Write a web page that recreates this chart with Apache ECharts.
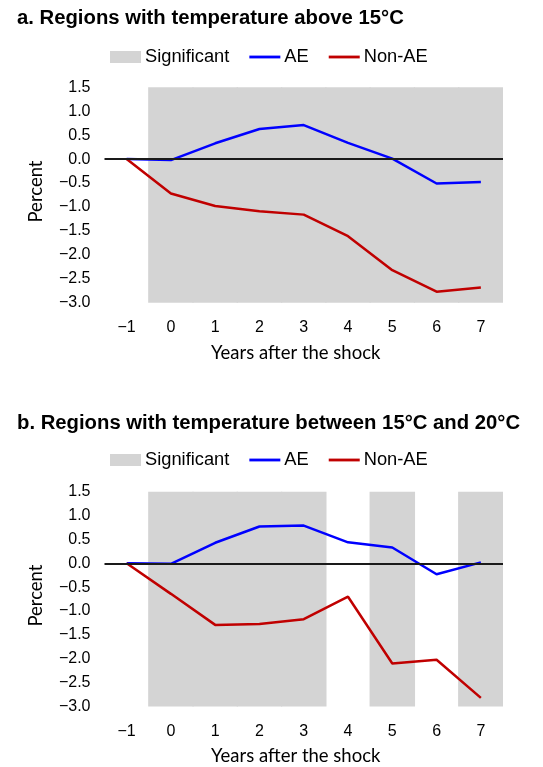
<!DOCTYPE html>
<html>
<head>
<meta charset="utf-8">
<script src="https://cdn.jsdelivr.net/npm/echarts@6/dist/echarts.min.js"></script>
<style>
  html, body { margin: 0; padding: 0; background: #fff; }
  #chart { width: 543px; height: 767px; }
</style>
</head>
<body>
<div id="chart"></div>
<script>
// 数据
const years = ['−1', '0', '1', '2', '3', '4', '5', '6', '7'];
const aeA = [0, -0.02, 0.33, 0.63, 0.71, 0.34, 0.01, -0.51, -0.48];
const nonAeA = [0, -0.72, -0.98, -1.09, -1.16, -1.61, -2.32, -2.77, -2.68];
const sigA = [0, 1, 1, 1, 1, 1, 1, 1, 1];
const aeB = [0, -0.01, 0.43, 0.77, 0.79, 0.44, 0.33, -0.23, 0.02];
const nonAeB = [0, -0.64, -1.29, -1.27, -1.17, -0.70, -2.10, -2.02, -2.82];
const sigB = [0, 1, 1, 1, 1, 0, 1, 0, 1];
const yMin = -3, yMax = 1.5, yStep = 0.5;

const chart = echarts.init(document.getElementById('chart'));

const gray = '#d4d4d4';
const blue = '#0000ff';
const red = '#c00000';
const armFont = 'Liberation Sans, Arial, sans-serif';
const calFont = 'Lato, Carlito, sans-serif';

const fmt = v => (v < 0 ? '−' : '') + Math.abs(v).toFixed(1);

// 显著区间：上下两段叠加成满高的灰色柱
const sigSeries = (sig, idx) => [yMax, yMin].map(edge => ({
  name: 'Significant', type: 'bar', stack: 'sig' + idx,
  xAxisIndex: idx, yAxisIndex: idx,
  barWidth: 45.5, silent: true, z: 1,
  itemStyle: { color: gray },
  data: sig.map(s => s ? edge : 0)
}));

const lineSeries = (name, data, color, idx, withZero) => ({
  name: name, type: 'line', xAxisIndex: idx, yAxisIndex: idx,
  symbol: 'none', z: 3,
  lineStyle: { color: color, width: 2.5 },
  itemStyle: { color: color },
  data: data,
  markLine: withZero ? {
    silent: true, symbol: 'none', label: { show: false },
    lineStyle: { color: '#1a1a1a', width: 2, type: 'solid' },
    data: [{ yAxis: 0 }], animation: false
  } : undefined
});

const grids = [
  { left: 104.5, right: 40, top: 87.3, height: 215.4 },
  { left: 104.5, right: 40, top: 491.7, height: 215.6 }
];

const xAxisFor = idx => ({
  type: 'category', gridIndex: idx, data: years, boundaryGap: true,
  axisLine: { show: false }, axisTick: { show: false },
  axisLabel: { color: '#000', fontFamily: armFont, fontSize: 16, margin: 17 },
  name: 'Years after the shock', nameLocation: 'middle', nameGap: 40.5,
  nameTextStyle: { color: '#000', fontFamily: calFont, fontSize: 18.5, padding: [0, 16, 0, 0] }
});

const yAxisFor = idx => ({
  type: 'value', gridIndex: idx, min: yMin, max: yMax, interval: yStep,
  axisLine: { show: false }, axisTick: { show: false }, splitLine: { show: false },
  axisLabel: { color: '#000', fontFamily: armFont, fontSize: 16, margin: 14, formatter: fmt },
  name: 'Percent', nameLocation: 'middle', nameGap: 59,
  nameTextStyle: { color: '#000', fontFamily: calFont, fontSize: 18.5, padding: [0, 0, 0, 7] }
});

const lineIcon = 'path://M0,0H33V3H0Z';
const legendFor = top => ({
  top: top, left: 105, itemGap: 20, itemWidth: 31, itemHeight: 12,
  data: [
    { name: 'Significant', icon: 'rect' },
    { name: 'AE', icon: lineIcon },
    { name: 'Non-AE', icon: lineIcon }
  ],
  textStyle: { color: '#000', fontFamily: armFont, fontSize: 18.3, padding: [0, 0, 0, -1] },
  selectedMode: false
});

const option = {
  animation: false,
  backgroundColor: '#fff',
  title: [
    { text: 'a. Regions with temperature above 15°C', left: 12, top: 3,
      textStyle: { color: '#000', fontFamily: armFont, fontSize: 20.3, fontWeight: 'bold' } },
    { text: 'b. Regions with temperature between 15°C and 20°C', left: 12, top: 408,
      textStyle: { color: '#000', fontFamily: armFont, fontSize: 20.3, fontWeight: 'bold' } }
  ],
  legend: [legendFor(43), legendFor(446)],
  grid: grids,
  xAxis: [xAxisFor(0), xAxisFor(1)],
  yAxis: [yAxisFor(0), yAxisFor(1)],
  series: [
    ...sigSeries(sigA, 0),
    lineSeries('AE', aeA, blue, 0, true),
    lineSeries('Non-AE', nonAeA, red, 0, false),
    ...sigSeries(sigB, 1),
    lineSeries('AE', aeB, blue, 1, true),
    lineSeries('Non-AE', nonAeB, red, 1, false)
  ]
};

chart.setOption(option);
</script>
</body>
</html>
